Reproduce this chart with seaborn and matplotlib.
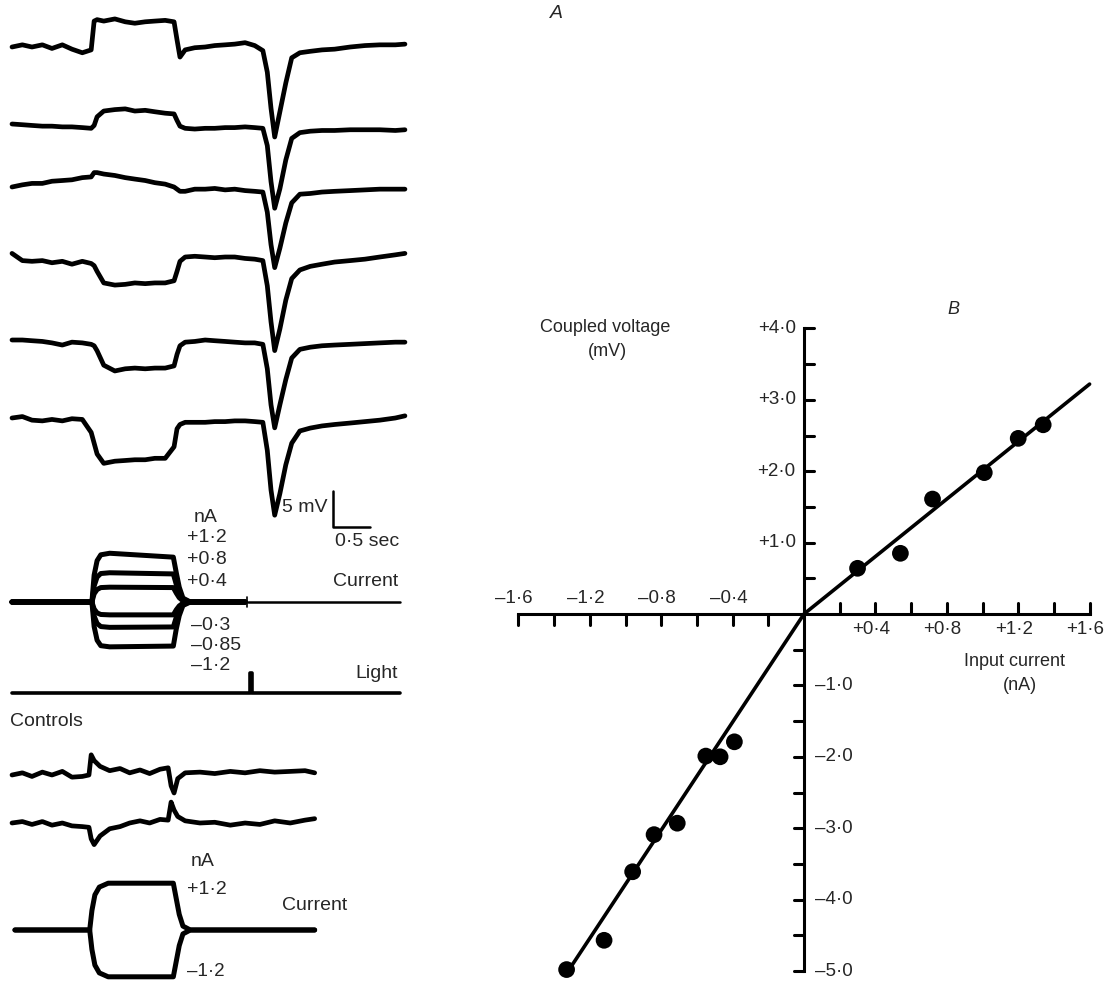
import numpy as np
import pandas as pd
import seaborn as sns
from matplotlib import pyplot as plt

W, H = 1108, 982

# ---------------- panel A data (time in s, voltage in mV, current in nA) ----------------
t_rec = [0.00, 0.14, 0.27, 0.41, 0.54, 0.68, 0.81, 0.95, 1.07, 1.11, 1.15, 1.24, 1.39, 1.53, 1.66,
         1.80, 1.93, 2.07, 2.19, 2.23, 2.27, 2.34, 2.47, 2.61, 2.74, 2.88, 3.01, 3.15, 3.28, 3.39,
         3.45, 3.50, 3.55, 3.62, 3.70, 3.78, 3.89, 4.03, 4.19, 4.36, 4.57, 4.77, 4.97, 5.18, 5.31]

v_trace1 = [0, 0.3, 0, 0.3, -0.2, 0.3, -0.3, -0.8, -0.4, 3.6, 3.8, 3.6, 3.9, 3.5, 3.3,
            3.5, 3.6, 3.7, 3.5, 1.0, -1.4, -0.4, -0.1, 0.0, 0.2, 0.3, 0.4, 0.6, 0.2, -0.5,
            -3.5, -8.5, -12.5, -9.0, -5.0, -1.5, -0.8, -0.6, -0.4, -0.3, 0.0, 0.2, 0.3, 0.3, 0.4]
v_trace2 = [0, -0.1, -0.2, -0.3, -0.3, -0.4, -0.4, -0.5, -0.6, -0.2, 1.0, 1.8, 2.0, 2.1, 1.8,
            1.9, 1.7, 1.5, 1.4, 0.5, -0.3, -0.6, -0.7, -0.6, -0.6, -0.5, -0.5, -0.4, -0.5, -0.6,
            -3.0, -8.0, -11.7, -9.0, -5.0, -2.0, -1.2, -1.0, -0.9, -0.9, -0.8, -0.8, -0.8, -0.9, -0.8]
v_trace3 = [0, 0.3, 0.5, 0.5, 0.8, 0.9, 1.0, 1.3, 1.4, 2.0, 2.0, 1.8, 1.6, 1.3, 1.1,
            0.9, 0.6, 0.4, 0.0, -0.3, -0.6, -0.6, -0.3, -0.3, -0.2, -0.4, -0.3, -0.5, -0.6, -0.7,
            -3.5, -8.0, -11.2, -8.5, -5.0, -2.2, -1.0, -0.9, -0.7, -0.6, -0.5, -0.4, -0.3, -0.3, -0.3]
v_trace4 = [0.5, -0.5, -0.6, -0.5, -0.8, -0.6, -1.0, -0.6, -0.9, -1.2, -2.0, -3.6, -3.9, -3.8, -3.6,
            -3.7, -3.6, -3.6, -3.3, -2.0, -0.6, 0.0, 0.1, 0.0, -0.1, 0.0, 0.0, -0.2, -0.3, -0.5,
            -4.0, -9.0, -13.0, -10.0, -6.0, -3.0, -1.8, -1.3, -1.0, -0.7, -0.5, -0.3, 0.0, 0.3, 0.5]
v_trace5 = [0, 0, -0.1, -0.2, -0.4, -0.7, -0.3, -0.4, -0.6, -0.8, -1.5, -3.5, -4.3, -4.0, -3.9,
            -4.0, -3.9, -3.9, -3.6, -2.0, -0.8, -0.3, -0.2, 0.0, -0.1, -0.2, -0.3, -0.4, -0.4, -0.6,
            -4.0, -9.0, -12.2, -9.0, -5.5, -2.5, -1.3, -1.0, -0.8, -0.7, -0.6, -0.5, -0.4, -0.3, -0.3]
v_trace6 = [0, 0.2, -0.3, -0.4, -0.2, -0.4, -0.1, -0.2, -2.0, -3.5, -5.0, -6.3, -6.0, -5.9, -5.8,
            -5.8, -5.6, -5.6, -4.0, -1.5, -0.9, -0.6, -0.6, -0.6, -0.5, -0.5, -0.4, -0.4, -0.5, -0.6,
            -4.5, -10.0, -13.5, -10.5, -6.5, -3.5, -1.8, -1.4, -1.1, -0.9, -0.7, -0.5, -0.3, 0.0, 0.3]
v_traces = [v_trace1, v_trace2, v_trace3, v_trace4, v_trace5, v_trace6]

# injected current pulses
t_cur = [0.00, 1.08, 1.11, 1.15, 1.20, 1.32, 2.18, 2.22, 2.26, 2.31, 2.41, 3.15]
i_p125 = [0, 0, 0.69, 1.06, 1.21, 1.25, 1.15, 0.75, 0.38, 0.10, 0, 0]
i_p075 = [0, 0, 0.41, 0.64, 0.73, 0.75, 0.72, 0.45, 0.23, 0.06, 0, 0]
i_p038 = [0, 0, 0.21, 0.32, 0.37, 0.38, 0.37, 0.23, 0.11, 0.03, 0, 0]
i_m033 = [0, 0, -0.18, -0.28, -0.32, -0.33, -0.33, -0.20, -0.10, -0.03, 0, 0]
i_m065 = [0, 0, -0.36, -0.55, -0.63, -0.65, -0.64, -0.39, -0.20, -0.05, 0, 0]
i_m115 = [0, 0, -0.63, -0.98, -1.12, -1.15, -1.13, -0.69, -0.35, -0.09, 0, 0]
i_traces = [i_p125, i_p075, i_p038, i_m033, i_m065, i_m115]
t_cur_tail = [3.19, 5.24]
i_cur_tail = [0, 0]

# light flash monitor
t_light = [0.00, 3.21, 3.21, 3.25, 3.25, 5.24]
light = [0, 0, 1, 1, 0, 0]

# controls
t_ctl = [0.00, 0.14, 0.27, 0.41, 0.54, 0.68, 0.81, 0.95, 1.04, 1.07, 1.11, 1.19, 1.32, 1.46, 1.59, 1.73,
         1.86, 2.00, 2.11, 2.15, 2.19, 2.24, 2.34, 2.54, 2.74, 2.95, 3.15, 3.35, 3.55, 3.76, 3.96, 4.09]
v_ctl1 = [0, 0.3, -0.2, 0.4, 0.0, 0.5, -0.3, -0.2, 0.0, 2.8, 2.0, 1.2, 0.6, 0.9, 0.3, 0.7,
          0.2, 0.8, 1.0, -1.5, -2.5, -0.5, 0.3, 0.4, 0.2, 0.5, 0.3, 0.6, 0.4, 0.5, 0.6, 0.3]
v_ctl2 = [0, 0.2, -0.2, 0.2, -0.3, 0.0, -0.4, -0.5, -0.6, -2.2, -3.0, -1.8, -0.8, -0.5, 0.0, 0.3,
          0.0, 0.5, 0.4, 2.9, 1.8, 0.9, 0.3, 0.0, 0.1, -0.3, 0.0, -0.2, 0.3, 0.0, 0.4, 0.6]
t_ctl_cur = [0.04, 1.05, 1.08, 1.12, 1.18, 1.30, 2.18, 2.22, 2.26, 2.31, 2.41, 4.09]
i_ctl_pos = [0, 0, 0.5, 0.9, 1.1, 1.2, 1.2, 0.8, 0.4, 0.1, 0, 0]
i_ctl_neg = [0, 0, -0.5, -0.9, -1.1, -1.2, -1.2, -0.8, -0.4, -0.1, 0, 0]

# ---------------- panel B data ----------------
cur_pos = [0.30, 0.54, 0.72, 1.01, 1.20, 1.34]
volt_pos = [0.64, 0.85, 1.61, 1.98, 2.46, 2.65]
cur_neg = [-0.39, -0.47, -0.55, -0.71, -0.84, -0.96, -1.12, -1.33]
volt_neg = [-1.79, -2.00, -1.99, -2.93, -3.09, -3.61, -4.57, -4.98]
fit_x = [-1.30, 0.0, 1.60]
fit_y = [-4.92, 0.0, 3.22]

# ---------------- layout (pixels) ----------------
SEC_PX, MV_PX, NA_PX = 74, 7.2, 39
T_LIM = (-12 / SEC_PX, 428 / SEC_PX)

sns.set_style('white')
plt.rcParams['font.family'] = ['Liberation Sans', 'DejaVu Sans']
fig = plt.figure(figsize=(W / 100, H / 100), dpi=100)


def px_axes(top, bottom, ylim, left=0, right=440):
    ax = fig.add_axes([left / W, 1 - bottom / H, (right - left) / W, (bottom - top) / H])
    ax.set_xlim(*T_LIM)
    ax.set_ylim(*ylim)
    ax.set_axis_off()
    return ax


def px_text(x, y, s, size=14, ha='center', **kw):
    fig.text(x / W, 1 - y / H, s, size=size, ha=ha, va='center', **kw)


def trace(ax, t, v, lw=3.4):
    sns.lineplot(x=t, y=v, color='black', lw=lw, estimator=None, sort=False, ax=ax)


# voltage recordings
ax_v = px_axes(0, 540, (-540 / MV_PX, 0))
row_px = [47, 124, 187, 257, 340, 418]
for v, row in zip(v_traces, row_px):
    trace(ax_v, t_rec, np.array(v) - row / MV_PX)
# calibration bar 5 mV / 0.5 s
bar_t = (333 - 12) / SEC_PX
bar_y = -527 / MV_PX
ax_v.plot([bar_t, bar_t, bar_t + 0.5], [bar_y + 5, bar_y, bar_y], color='black', lw=1.8)

# current traces
ax_i = px_axes(540, 662, (-(662 - 602) / NA_PX, (602 - 540) / NA_PX))
for i in i_traces:
    trace(ax_i, t_cur, i, lw=3.6)
trace(ax_i, t_cur_tail, i_cur_tail, lw=1.8)
ax_i.plot([3.17, 3.17], [-0.12, 0.14], color='black', lw=1.2)

# light monitor
ax_l = px_axes(662, 712, (-(712 - 693) / 20, (693 - 662) / 20))
trace(ax_l, t_light, light, lw=2.6)

# controls
ax_c = px_axes(730, 860, (-130 / MV_PX, 0))
trace(ax_c, t_ctl, np.array(v_ctl1) - (775 - 730) / MV_PX)
trace(ax_c, t_ctl, np.array(v_ctl2) - (823 - 730) / MV_PX)
ax_ci = px_axes(860, 982, (-(982 - 930) / NA_PX, (930 - 860) / NA_PX))
trace(ax_ci, t_ctl_cur, i_ctl_pos, lw=3.6)
trace(ax_ci, t_ctl_cur, i_ctl_neg, lw=3.6)

# panel A labels
px_text(556, 13, 'A', style='italic')
px_text(305, 507, '5 mV')
px_text(367, 542, '0·5 sec')
px_text(206, 517, 'nA')
for s, y in [('+1·2', 538), ('+0·8', 560), ('+0·4', 582)]:
    px_text(207, y, s)
px_text(398, 582, 'Current', ha='right')
for s, y in [('–0·3', 626), ('–0·85', 646), ('–1·2', 666)]:
    px_text(191, y, s, ha='left')
px_text(398, 674, 'Light', ha='right')
px_text(10, 722, 'Controls', ha='left')
px_text(203, 861, 'nA')
px_text(187, 889, '+1·2', ha='left')
px_text(282, 906, 'Current', ha='left')
px_text(187, 971, '–1·2', ha='left', size=13.5)

# ---------------- panel B ----------------
X0, Y0, NA_B, MV_B = 804, 614, 178.5, 71.4
ax_b = fig.add_axes([480 / W, 0, (W - 480) / W, (982 - 280) / H])
ax_b.set_xlim((480 - X0) / NA_B, (W - X0) / NA_B)
ax_b.set_ylim(-(982 - Y0) / MV_B, (Y0 - 280) / MV_B)
ax_b.patch.set_alpha(0)

pts = pd.DataFrame({'current': cur_pos + cur_neg, 'voltage': volt_pos + volt_neg})
sns.scatterplot(data=pts, x='current', y='voltage', color='black', s=145, edgecolor='none',
                zorder=3, ax=ax_b)
sns.lineplot(x=fit_x, y=fit_y, color='black', lw=2.6, estimator=None, sort=False, ax=ax_b)

sns.despine(ax=ax_b, top=True, right=True)
for side in ['left', 'bottom']:
    ax_b.spines[side].set_position(('data', 0))
    ax_b.spines[side].set_linewidth(2.2)
    ax_b.spines[side].set_color('black')
ax_b.spines['bottom'].set_bounds(-1.6, 1.6)
ax_b.spines['left'].set_bounds(-5.0, 4.0)
ax_b.set_xticks([])
ax_b.set_yticks([])
ax_b.set_xlabel('')
ax_b.set_ylabel('')


def fmt(v):
    return ('+' if v > 0 else '–') + f'{abs(v):.1f}'.replace('.', '·')


x_ticks = [v for v in np.round(np.arange(-1.6, 1.61, 0.2), 1) if v != 0]
x_tick_len = 11 / MV_B
for v in x_ticks:
    if v > 0:
        ax_b.plot([v, v], [0, x_tick_len], color='black', lw=2.2)
    else:
        ax_b.plot([v, v], [-x_tick_len, 0], color='black', lw=2.2)
for v in [-1.6, -1.2, -0.8, -0.4]:
    ax_b.annotate(fmt(v), (v, 0), xytext=(-3, 5), textcoords='offset points',
                  ha='center', va='bottom', size=13.5)
for v in [0.4, 0.8, 1.2, 1.6]:
    ax_b.annotate(fmt(v), (v, 0), xytext=(-3, -5), textcoords='offset points',
                  ha='center', va='top', size=13.5)

y_ticks = [v for v in np.arange(-5.0, 4.01, 0.5) if v != 0]
y_tick_len = 10 / NA_B
for v in y_ticks:
    if v > 0:
        ax_b.plot([0, y_tick_len], [v, v], color='black', lw=2.2)
    else:
        ax_b.plot([-y_tick_len, 0], [v, v], color='black', lw=2.2)
for v in [1.0, 2.0, 3.0, 4.0]:
    ax_b.annotate(fmt(v), (0, v), xytext=(-6, 0), textcoords='offset points',
                  ha='right', va='center', size=13.5)
for v in [-1.0, -2.0, -3.0, -4.0, -5.0]:
    ax_b.annotate(fmt(v), (0, v), xytext=(8, 0), textcoords='offset points',
                  ha='left', va='center', size=13.5)

px_text(953, 310, 'B', style='italic', size=13)
px_text(605, 327, 'Coupled voltage', size=13)
px_text(607, 352, '(mV)', size=13)
px_text(1015, 661, 'Input current', size=13)
px_text(1020, 686, '(nA)', size=13)

fig.savefig('out.png', dpi=100)
